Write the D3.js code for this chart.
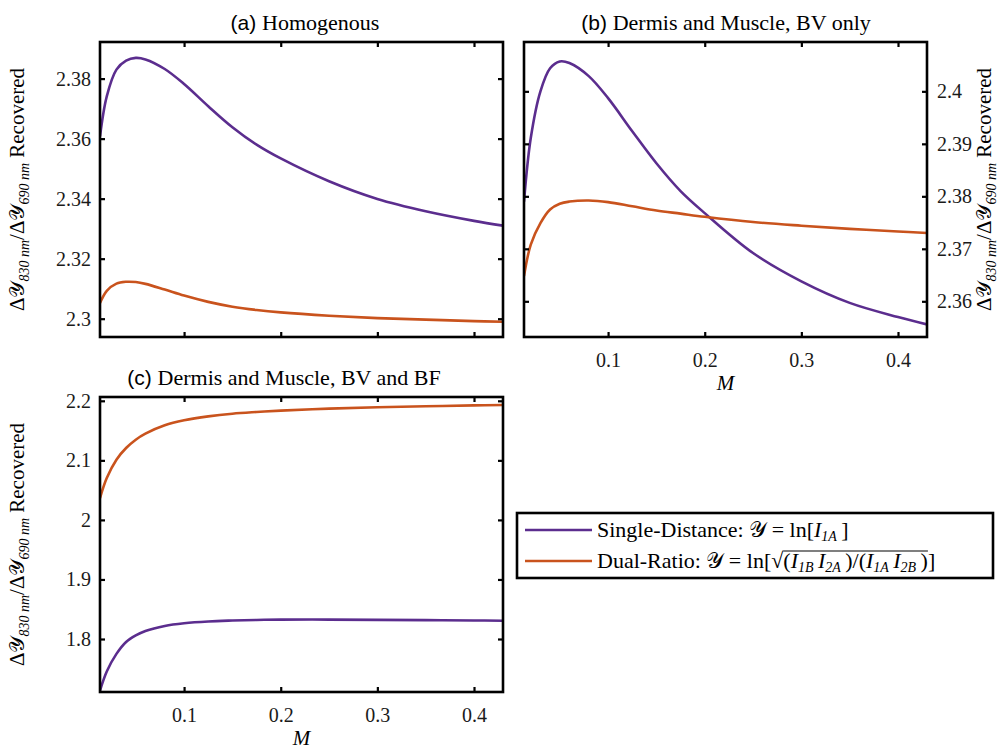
<!DOCTYPE html>
<html>
<head>
<meta charset="utf-8">
<script src="https://cdn.jsdelivr.net/npm/d3@7"></script>
<style>
  body { margin: 0; background: #fff; }
  svg { display: block; }
</style>
</head>
<body>
<div id="chart"></div>
<script>
// M values (x) shared by every curve
var mValues = [0.013, 0.02, 0.03, 0.04, 0.05, 0.06, 0.08, 0.1, 0.125, 0.15, 0.175, 0.2, 0.25, 0.3, 0.35, 0.4, 0.43];

// (a) Homogenous
var homogSD = [2.3608, 2.3741, 2.3830, 2.3860, 2.3869, 2.3864, 2.3832, 2.3782, 2.3708, 2.3638, 2.3580, 2.3534, 2.3458, 2.3399, 2.3358, 2.3326, 2.3310];
var homogDR = [2.3052, 2.3093, 2.3117, 2.3123, 2.3122, 2.3116, 2.3097, 2.3077, 2.3056, 2.3040, 2.3029, 2.3021, 2.3010, 2.3002, 2.2997, 2.2992, 2.2990];

// (b) Dermis and Muscle, BV only
var bvSD = [2.3790, 2.3911, 2.4000, 2.4044, 2.4057, 2.4054, 2.4029, 2.3987, 2.3924, 2.3863, 2.3810, 2.3768, 2.3692, 2.3638, 2.3597, 2.3570, 2.3556];
var bvDR = [2.3648, 2.3708, 2.3749, 2.3775, 2.3786, 2.3790, 2.3792, 2.3789, 2.3781, 2.3773, 2.3767, 2.3761, 2.3751, 2.3744, 2.3738, 2.3733, 2.3730];

// (c) Dermis and Muscle, BV and BF
var bfSD = [1.7134, 1.7454, 1.7750, 1.7950, 1.8060, 1.8135, 1.8220, 1.8265, 1.8295, 1.8310, 1.8320, 1.8325, 1.8326, 1.8322, 1.8317, 1.8311, 1.8307];
var bfDR = [2.0367, 2.0703, 2.1011, 2.1207, 2.1347, 2.1448, 2.1588, 2.1672, 2.1739, 2.1784, 2.1812, 2.1835, 2.1868, 2.1891, 2.1908, 2.1924, 2.1930];

var xTicks = [0.1, 0.2, 0.3, 0.4];
var yTicksA = [2.3, 2.32, 2.34, 2.36, 2.38];
var yTicksB = [2.36, 2.37, 2.38, 2.39, 2.4];
var yTicksC = [1.8, 1.9, 2, 2.1, 2.2];

var seriesNames = ["Single-Distance: ", "Dual-Ratio: "];
var purple = "#5b2d8e", orange = "#c9531d";
var SERIF = "'Liberation Serif', 'Times New Roman', 'DejaVu Serif', serif";
var SANS = "'Liberation Sans', Arial, Helvetica, sans-serif";

var svg = d3.select("#chart").append("svg")
    .attr("width", 1004)
    .attr("height", 749);

var panels = [
  { key: "a", tag: "(a)", title: "Homogenous", left: 100, top: 42, w: 403, h: 295,
    yDomain: [2.2939, 2.3922], yTicks: yTicksA, fmt: d3.format(".2~f"),
    sd: homogSD, dr: homogDR, yLabelSide: "left", xLabels: false, titleX: 305 },
  { key: "b", tag: "(b)", title: "Dermis and Muscle, BV only", left: 524, top: 42, w: 403, h: 295,
    yDomain: [2.3532, 2.4094], yTicks: yTicksB, fmt: d3.format(".2~f"),
    sd: bvSD, dr: bvDR, yLabelSide: "right", xLabels: true, titleX: 726 },
  { key: "c", tag: "(c)", title: "Dermis and Muscle, BV and BF", left: 100, top: 397, w: 403, h: 295,
    yDomain: [1.711, 2.2064], yTicks: yTicksC, fmt: d3.format(".1~f"),
    sd: bfSD, dr: bfDR, yLabelSide: "left", xLabels: true, titleX: 284 }
];

function yLabel(g, x, y) {
  var t = g.append("text")
      .attr("font-family", SERIF)
      .attr("transform", "translate(" + x + "," + y + ") rotate(-90)")
      .attr("text-anchor", "middle")
      .attr("font-size", 21);
  t.append("tspan").text("Δ𝒴");
  t.append("tspan").attr("font-size", 14).attr("dy", 5).attr("font-style", "italic").text("830 nm");
  t.append("tspan").attr("dy", -5).text("/Δ𝒴");
  t.append("tspan").attr("font-size", 14).attr("dy", 5).attr("font-style", "italic").text("690 nm");
  t.append("tspan").attr("dy", -5).text(" Recovered");
}

panels.forEach(function(p) {
  var x = d3.scaleLinear().domain([0.013, 0.43]).range([0, p.w]);
  var y = d3.scaleLinear().domain(p.yDomain).range([p.h, 0]);

  var g = svg.append("g").attr("transform", "translate(" + p.left + "," + p.top + ")");

  var line = d3.line()
      .x(function(d) { return x(d[0]); })
      .y(function(d) { return y(d[1]); })
      .curve(d3.curveCatmullRom.alpha(0.5));

  var clipId = "clip-" + p.key;
  g.append("clipPath").attr("id", clipId)
    .append("rect").attr("width", p.w).attr("height", p.h);

  g.append("path")
      .datum(d3.zip(mValues, p.sd))
      .attr("clip-path", "url(#" + clipId + ")")
      .attr("fill", "none").attr("stroke", purple).attr("stroke-width", 2.6)
      .attr("d", line);
  g.append("path")
      .datum(d3.zip(mValues, p.dr))
      .attr("clip-path", "url(#" + clipId + ")")
      .attr("fill", "none").attr("stroke", orange).attr("stroke-width", 2.6)
      .attr("d", line);

  // axes: inward ticks on all four sides
  var bottom = g.append("g").attr("transform", "translate(0," + p.h + ")")
      .call(d3.axisBottom(x).tickValues(xTicks).tickSizeInner(-5).tickSizeOuter(0).tickPadding(16)
        .tickFormat(p.xLabels ? d3.format(".1f") : ""));
  var top = g.append("g")
      .call(d3.axisTop(x).tickValues(xTicks).tickSizeInner(-5).tickSizeOuter(0).tickFormat(""));
  var leftAx = g.append("g")
      .call(d3.axisLeft(y).tickValues(p.yTicks).tickSizeInner(-5).tickSizeOuter(0).tickPadding(9)
        .tickFormat(p.yLabelSide === "left" ? p.fmt : ""));
  var rightAx = g.append("g").attr("transform", "translate(" + p.w + ",0)")
      .call(d3.axisRight(y).tickValues(p.yTicks).tickSizeInner(-5).tickSizeOuter(0).tickPadding(10)
        .tickFormat(p.yLabelSide === "right" ? p.fmt : ""));

  [bottom, top, leftAx, rightAx].forEach(function(a) {
    a.attr("font-family", SERIF).attr("font-size", 20);
    a.select(".domain").remove();
    a.selectAll(".tick line").attr("stroke", "#000").attr("stroke-width", 2.2);
    a.selectAll(".tick text").attr("fill", "#1a1a1a");
  });

  g.append("rect")
      .attr("width", p.w).attr("height", p.h)
      .attr("fill", "none").attr("stroke", "#000").attr("stroke-width", 2.6);

  if (p.xLabels) {
    g.append("text").attr("font-family", SERIF)
        .attr("x", p.w / 2).attr("y", p.h + 53)
        .attr("text-anchor", "middle").attr("font-size", 21).attr("font-style", "italic")
        .text("M");
  }

  if (p.yLabelSide === "left") yLabel(g, -76, p.h / 2);
  else yLabel(g, p.w + 64, p.h / 2);

  // title
  var tt = svg.append("text")
      .attr("x", p.titleX).attr("y", p.top - 12)
      .attr("text-anchor", "middle");
  tt.append("tspan").attr("font-family", SANS).attr("font-size", 21).text(p.tag + " ");
  tt.append("tspan").attr("font-family", SERIF).attr("font-size", 22).text(p.title);
});

// legend
var lg = svg.append("g").attr("transform", "translate(517,513)");
lg.append("rect").attr("width", 476).attr("height", 65)
    .attr("fill", "#fff").attr("stroke", "#000").attr("stroke-width", 2.6);

function sub(t, base, s) {
  t.append("tspan").attr("font-style", "italic").text(base);
  t.append("tspan").attr("font-size", 14).attr("dy", 4).attr("font-style", "italic").text(s);
  return t.append("tspan").attr("dy", -4).attr("font-size", 22).text("\u2009");
}

[purple, orange].forEach(function(c, i) {
  var yy = 17 + i * 31;
  lg.append("line").attr("x1", 8).attr("x2", 75).attr("y1", yy).attr("y2", yy)
      .attr("stroke", c).attr("stroke-width", 2.6);
  var t = lg.append("text").attr("font-family", SERIF).attr("x", 80).attr("y", yy + 7).attr("font-size", 22);
  t.append("tspan").text(seriesNames[i] + " 𝒴 = ln[");
  if (i === 0) {
    sub(t, "I", "1A");
    t.append("tspan").text("]");
  } else {
    var root = t.append("tspan").text("√");
    t.append("tspan").text("(");
    sub(t, "I", "1B");
    sub(t, "I", "2A");
    t.append("tspan").text(")/(");
    sub(t, "I", "1A");
    sub(t, "I", "2B");
    var close = t.append("tspan").text(")");
    t.append("tspan").text("]");
    // vinculum over the radicand
    var rb = root.node().getBBox(), cb = close.node().getBBox();
    lg.append("line")
        .attr("x1", rb.x + rb.width - 1).attr("x2", cb.x + cb.width)
        .attr("y1", rb.y + 3).attr("y2", rb.y + 3)
        .attr("stroke", "#000").attr("stroke-width", 1.2);
  }
});
</script>
</body>
</html>
